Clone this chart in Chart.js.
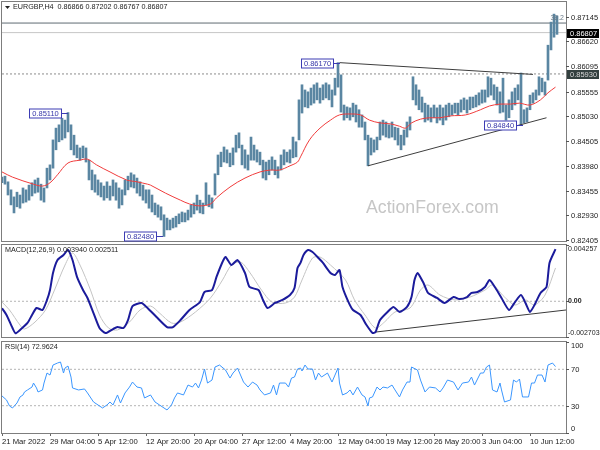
<!DOCTYPE html>
<html>
<head>
<meta charset="utf-8">
<script src="https://cdn.jsdelivr.net/npm/chart.js@4.4.1/dist/chart.umd.min.js"></script>
<style>
  body { margin: 0; background: #fff; }
  #wrap { position: relative; width: 600px; height: 450px; overflow: hidden; }
  canvas { position: absolute; left: 0; }
</style>
</head>
<body>
<div id="wrap">
  <canvas id="priceChart" width="600" height="243" style="top:0"></canvas>
  <canvas id="macdChart" width="600" height="97" style="top:243px"></canvas>
  <canvas id="rsiChart" width="600" height="110" style="top:340px"></canvas>
</div>
<script>
const dateLabels = ["21 Mar 2022", "29 Mar 04:00", "5 Apr 12:00", "12 Apr 20:00", "20 Apr 04:00", "27 Apr 12:00",
  "4 May 20:00", "12 May 04:00", "19 May 12:00", "26 May 20:00", "3 Jun 04:00", "10 Jun 12:00"];
const dateBars = [0, 32, 64, 96, 128, 160, 192, 224, 256, 288, 320, 352];
const barsShown = 376;
const barStep = 2; // one high/low entry per two H4 bars

const highs = [
  0.8374, 0.8376, 0.8364, 0.8347, 0.8332, 0.8342, 0.8336, 0.8351, 0.8347, 0.8357,
  0.8362, 0.8368, 0.8372, 0.8359, 0.8351, 0.8393, 0.8400, 0.8453, 0.8478, 0.8485,
  0.8499, 0.8495, 0.8511, 0.8485, 0.8463, 0.8442, 0.8436, 0.8440, 0.8436, 0.8410,
  0.8389, 0.8379, 0.8368, 0.8362, 0.8355, 0.8364, 0.8355, 0.8368, 0.8362, 0.8351,
  0.8347, 0.8368, 0.8376, 0.8383, 0.8379, 0.8372, 0.8364, 0.8357, 0.8347, 0.8347,
  0.8336, 0.8319, 0.8315, 0.8311, 0.8294, 0.8287, 0.8283, 0.8287, 0.8291, 0.8296,
  0.8300, 0.8298, 0.8304, 0.8315, 0.8319, 0.8336, 0.8325, 0.8319, 0.8362, 0.8336,
  0.8330, 0.8381, 0.8421, 0.8427, 0.8438, 0.8432, 0.8425, 0.8436, 0.8463, 0.8468,
  0.8442, 0.8432, 0.8421, 0.8459, 0.8442, 0.8432, 0.8427, 0.8410, 0.8406, 0.8410,
  0.8417, 0.8410, 0.8396, 0.8421, 0.8432, 0.8427, 0.8432, 0.8459, 0.8449, 0.8538,
  0.8570, 0.8559, 0.8555, 0.8563, 0.8570, 0.8574, 0.8563, 0.8570, 0.8574, 0.8570,
  0.8559, 0.8584, 0.8617, 0.8591, 0.8527, 0.8523, 0.8521, 0.8531, 0.8527, 0.8517,
  0.8506, 0.8491, 0.8463, 0.8457, 0.8453, 0.8459, 0.8491, 0.8495, 0.8491, 0.8485,
  0.8491, 0.8480, 0.8478, 0.8463, 0.8474, 0.8491, 0.8502, 0.8587, 0.8570, 0.8559,
  0.8544, 0.8531, 0.8527, 0.8521, 0.8527, 0.8521, 0.8527, 0.8521, 0.8527, 0.8531,
  0.8527, 0.8531, 0.8531, 0.8538, 0.8542, 0.8538, 0.8544, 0.8544, 0.8548, 0.8553,
  0.8559, 0.8559, 0.8587, 0.8584, 0.8570, 0.8565, 0.8555, 0.8584, 0.8527, 0.8538,
  0.8555, 0.8563, 0.8570, 0.8595, 0.8517, 0.8521, 0.8548, 0.8553, 0.8559, 0.8587,
  0.8584, 0.8576, 0.8654, 0.8703, 0.8720, 0.8716
];
const lows = [
  0.8362, 0.8359, 0.8336, 0.8315, 0.8298, 0.8311, 0.8308, 0.8319, 0.8321, 0.8325,
  0.8334, 0.8340, 0.8342, 0.8325, 0.8321, 0.8351, 0.8368, 0.8393, 0.8432, 0.8449,
  0.8453, 0.8457, 0.8470, 0.8432, 0.8421, 0.8415, 0.8410, 0.8415, 0.8406, 0.8368,
  0.8347, 0.8342, 0.8336, 0.8332, 0.8325, 0.8330, 0.8325, 0.8334, 0.8325, 0.8308,
  0.8315, 0.8336, 0.8347, 0.8353, 0.8351, 0.8340, 0.8334, 0.8325, 0.8319, 0.8308,
  0.8300, 0.8294, 0.8289, 0.8283, 0.8248, 0.8262, 0.8262, 0.8266, 0.8268, 0.8275,
  0.8279, 0.8279, 0.8283, 0.8289, 0.8296, 0.8304, 0.8298, 0.8296, 0.8315, 0.8311,
  0.8308, 0.8336, 0.8379, 0.8396, 0.8406, 0.8404, 0.8396, 0.8400, 0.8427, 0.8436,
  0.8400, 0.8393, 0.8389, 0.8410, 0.8410, 0.8406, 0.8400, 0.8372, 0.8368, 0.8379,
  0.8389, 0.8379, 0.8372, 0.8389, 0.8400, 0.8406, 0.8404, 0.8415, 0.8417, 0.8453,
  0.8510, 0.8523, 0.8521, 0.8527, 0.8531, 0.8538, 0.8531, 0.8538, 0.8542, 0.8538,
  0.8523, 0.8548, 0.8565, 0.8512, 0.8495, 0.8500, 0.8495, 0.8502, 0.8491, 0.8480,
  0.8480, 0.8453, 0.8398, 0.8421, 0.8427, 0.8432, 0.8453, 0.8463, 0.8459, 0.8457,
  0.8459, 0.8453, 0.8442, 0.8432, 0.8442, 0.8459, 0.8474, 0.8538, 0.8527, 0.8517,
  0.8512, 0.8491, 0.8495, 0.8491, 0.8500, 0.8489, 0.8495, 0.8485, 0.8495, 0.8502,
  0.8506, 0.8510, 0.8506, 0.8512, 0.8517, 0.8510, 0.8517, 0.8521, 0.8523, 0.8527,
  0.8531, 0.8533, 0.8544, 0.8548, 0.8538, 0.8527, 0.8510, 0.8512, 0.8495, 0.8500,
  0.8517, 0.8527, 0.8538, 0.8484, 0.8489, 0.8491, 0.8517, 0.8531, 0.8538, 0.8548,
  0.8555, 0.8548, 0.8580, 0.8644, 0.8671, 0.8677
];

const maBars = [0, 7, 21, 27, 32, 37, 44, 52, 57, 63, 72, 83, 90, 97, 99, 109, 119, 125, 132, 139,
  143, 152, 162, 172, 179, 185, 192, 197, 199, 205, 212, 219, 225, 232, 239, 245, 252, 259, 265, 269,
  273, 279, 285, 292, 299, 309, 319, 325, 332, 339, 345, 352, 359, 364, 369];
const maValues = [0.8385, 0.8374, 0.8359, 0.8355, 0.8362, 0.8379, 0.8404, 0.8410, 0.8412, 0.8400,
  0.8385, 0.8368, 0.8364, 0.8359, 0.8357, 0.8340, 0.8325, 0.8317, 0.8313, 0.8317,
  0.8330, 0.8353, 0.8372, 0.8385, 0.8389, 0.8389, 0.8398, 0.8406, 0.8417, 0.8453,
  0.8478, 0.8495, 0.8506, 0.8508, 0.8506, 0.8495, 0.8489, 0.8487, 0.8482, 0.8478,
  0.8489, 0.8497, 0.8500, 0.8500, 0.8504, 0.8506, 0.8517, 0.8525, 0.8529, 0.8529,
  0.8531, 0.8527, 0.8538, 0.8553, 0.8565];

const macdBars = [0, 3, 7, 9, 12, 17, 20, 23, 27, 30, 32, 34, 37, 41, 44, 47, 50, 54, 57, 61,
  65, 69, 74, 77, 81, 84, 87, 93, 97, 103, 110, 114, 119, 125, 132, 135, 140, 143, 147, 149,
  153, 157, 162, 165, 171, 174, 177, 182, 187, 192, 195, 197, 199, 201, 204, 207, 211, 214, 219, 222,
  225, 227, 231, 234, 239, 243, 247, 249, 252, 257, 261, 265, 270, 273, 275, 277, 281, 284, 290, 295,
  301, 305, 310, 313, 317, 322, 325, 329, 333, 338, 342, 346, 349, 352, 355, 359, 363, 365, 369];
const macdValues = [-0.00053, -0.00104, -0.00202, -0.00242, -0.00217, -0.00164, -0.00104, -0.00051, -0.00066, 0.00010,
  0.00085, 0.00214, 0.00312, 0.00350, 0.00388, 0.00312, 0.00184, 0.00085, 0.00025, -0.00089,
  -0.00202, -0.00240, -0.00210, -0.00195, -0.00202, -0.00142, -0.00036, -0.00013, -0.00051, -0.00119,
  -0.00195, -0.00195, -0.00142, -0.00066, -0.00006, 0.00070, 0.00085, 0.00184, 0.00297, 0.00335,
  0.00274, 0.00312, 0.00214, 0.00108, 0.00085, 0.00010, -0.00051, -0.00013, 0.00010, 0.00047,
  0.00100, 0.00252, 0.00290, 0.00350, 0.00388, 0.00373, 0.00327, 0.00290, 0.00214, 0.00199,
  0.00237, 0.00108, -0.00006, -0.00066, -0.00104, -0.00180, -0.00240, -0.00233, -0.00142, -0.00081,
  -0.00043, -0.00081, -0.00043, 0.00032, 0.00161, 0.00214, 0.00138, 0.00063, 0.00025, -0.00013,
  0.00032, 0.00017, 0.00032, 0.00063, 0.00070, 0.00108, 0.00161, 0.00100, 0.00025, -0.00066,
  -0.00006, 0.00047, -0.00013, -0.00081, -0.00028, 0.00063, 0.00108, 0.00290, 0.00394];

const signalBars = [0, 5, 12, 15, 22, 29, 35, 42, 47, 52, 59, 65, 71, 77, 85, 92, 99, 105, 113, 119,
  129, 139, 147, 153, 159, 165, 173, 180, 189, 195, 200, 207, 212, 219, 229, 235, 242, 249, 255, 262,
  272, 279, 284, 292, 302, 312, 322, 327, 335, 342, 349, 355, 362, 369];
const signalValues = [-0.00006, -0.00066, -0.00180, -0.00210, -0.00157, -0.00066, 0.00085, 0.00274, 0.00365, 0.00274,
  0.00085, -0.00104, -0.00202, -0.00217, -0.00157, -0.00066, -0.00036, -0.00089, -0.00164, -0.00157,
  -0.00081, 0.00025, 0.00161, 0.00274, 0.00297, 0.00221, 0.00085, -0.00006, -0.00013, 0.00032,
  0.00161, 0.00327, 0.00335, 0.00274, 0.00161, 0.00010, -0.00104, -0.00202, -0.00157, -0.00081,
  -0.00051, 0.00085, 0.00123, 0.00047, 0.00010, 0.00032, 0.00085, 0.00123, 0.00032, -0.00028,
  0.00010, -0.00028, 0.00047, 0.00252];

const rsiBars = [0, 3, 5, 7, 10, 12, 14, 15, 17, 20, 21, 23, 24, 27, 28, 30, 32, 34, 37, 39,
  41, 42, 44, 46, 47, 51, 55, 57, 61, 64, 67, 70, 72, 74, 77, 79, 82, 85, 87, 90,
  93, 95, 99, 102, 105, 110, 113, 115, 117, 121, 124, 127, 129, 131, 133, 135, 137, 140, 142, 145,
  149, 152, 154, 157, 161, 164, 167, 170, 172, 175, 179, 181, 183, 185, 189, 191, 193, 195, 197, 199,
  200, 202, 204, 207, 209, 211, 213, 217, 220, 222, 224, 225, 227, 230, 232, 234, 237, 240, 242, 244,
  245, 247, 250, 252, 254, 257, 260, 262, 265, 267, 270, 272, 273, 277, 279, 282, 285, 289, 292, 294,
  297, 301, 304, 307, 311, 313, 315, 319, 321, 323, 325, 327, 330, 332, 333, 335, 339, 341, 343, 345,
  347, 351, 353, 355, 357, 360, 362, 364, 367, 369];
const rsiValues = [40.7, 36.3, 29.7, 27.5, 33.0, 39.6, 41.8, 45.1, 47.3, 50.5, 54.9, 49.5, 45.1, 47.3, 54.9, 65.9, 63.7, 74.7, 76.9, 78.0,
  65.9, 71.4, 73.6, 61.5, 49.5, 47.3, 48.4, 44.0, 34.1, 30.8, 27.5, 30.8, 34.1, 30.8, 41.8, 33.0, 44.0, 50.5, 56.0, 50.5,
  49.5, 38.5, 41.8, 34.1, 30.8, 25.3, 30.8, 38.5, 44.0, 41.8, 52.7, 50.5, 54.9, 49.5, 58.2, 70.3, 54.9, 58.2, 72.5, 74.7,
  69.2, 60.4, 65.9, 71.4, 56.0, 50.5, 56.0, 52.7, 47.3, 41.8, 44.0, 52.7, 41.8, 54.9, 54.9, 50.5, 60.4, 61.5, 70.3, 71.4,
  68.1, 74.7, 70.3, 70.3, 58.2, 65.9, 61.5, 65.9, 56.0, 63.7, 71.4, 54.9, 41.8, 44.0, 47.3, 41.8, 50.5, 41.8, 39.6, 29.7,
  38.5, 39.6, 50.5, 47.3, 50.5, 49.5, 52.7, 47.3, 39.6, 47.3, 56.0, 56.0, 72.5, 69.2, 58.2, 45.1, 50.5, 49.5, 45.1, 49.5,
  58.2, 56.0, 47.3, 54.9, 56.0, 61.5, 52.7, 65.9, 65.9, 72.5, 74.7, 47.3, 45.1, 54.9, 47.3, 34.1, 36.3, 58.2, 56.0, 59.3,
  39.6, 39.6, 54.9, 54.9, 63.7, 63.7, 56.0, 74.7, 76.9, 73.0];

const priceTicks = [0.87145, 0.86620, 0.86095, 0.85555, 0.85030, 0.84505, 0.83980, 0.83455, 0.82930, 0.82405];
const macdTicks = [0.004257, 0, -0.002703];
const macdTickLabels = ["0.004257", "0.00", "-0.002703"];
const rsiTicks = [100, 70, 30, 0];

const priceMin = 0.82384;
const priceMax = 0.87457;
const macdMin = -0.002703;
const macdMax = 0.004257;

const swingPrices = [0.85110, 0.82480, 0.86170, 0.84840];
const swingBars = [44, 107, 225, 347];
const upperTrendBars = [225, 354];
const upperTrendPrices = [0.8617, 0.8592];
const lowerTrendBars = [244, 363];
const lowerTrendPrices = [0.8398, 0.8500];
const macdTrendBars = [249, 376];
const macdTrendValues = [-0.00233, -0.00066];

const fibLevel = 0.8701;
const lastPrice = 0.86807;
const breakLevel = 0.8593;

const fontFamily = '"Liberation Sans", Arial, sans-serif';
Chart.defaults.font.family = fontFamily;
Chart.defaults.font.size = 7.5;
Chart.defaults.color = "#222";

function points(xs, ys) {
  return xs.map(function(x, i) { return { x: x, y: ys[i] }; });
}

function lineSet(data, color, width, extra) {
  return Object.assign({
    type: "line", data: data, borderColor: color, borderWidth: width,
    pointRadius: 0, fill: false
  }, extra || {});
}

function timeAxis(show) {
  return {
    type: "linear", min: 0, max: barsShown, offset: false, display: show,
    grid: { drawOnChartArea: false, drawTicks: true, tickLength: 3, color: "#666", offset: false },
    border: { display: false },
    ticks: {
      align: "start", padding: 1, maxRotation: 0, autoSkip: false, color: "#222",
      font: { size: 7.7 },
      callback: function(v, i) { return dateLabels[i]; }
    },
    afterBuildTicks: function(s) { s.ticks = dateBars.map(function(v) { return { value: v }; }); },
    afterFit: function(s) {
      s.height = show ? 17 : 0;
      s.paddingLeft = 0;
      s.paddingRight = 0;
    }
  };
}

function valueAxis(min, max) {
  return {
    position: "right", min: min, max: max,
    grid: { display: false }, border: { display: false }, ticks: { display: false },
    afterFit: function(s) { s.width = 34; s.paddingTop = 0; s.paddingBottom = 0; }
  };
}

function baseOptions(padding, x, y) {
  return {
    responsive: false, devicePixelRatio: 1, animation: false,
    layout: { padding: padding },
    scales: { x: x, y: y },
    plugins: { legend: { display: false }, tooltip: { enabled: false } }
  };
}

function panelPlugin(ticks, texts, clamp, caption, captionX, labelGap, labelSize) {
  return {
    id: "panel",
    afterDraw: function(chart) {
      const ctx = chart.ctx, a = chart.chartArea, y = chart.scales.y;
      ctx.save();
      ctx.strokeStyle = "#7d7d7d";
      ctx.lineWidth = 1;
      ctx.strokeRect(a.left - 0.5, a.top - 0.5, a.right - a.left + 1, a.bottom - a.top + 1);
      ctx.textBaseline = "middle";
      ctx.textAlign = "left";
      ctx.fillStyle = "#222";
      ctx.strokeStyle = "#555";
      ticks.forEach(function(v, i) {
        let py = Math.round(y.getPixelForValue(v)) + 0.5;
        ctx.beginPath();
        ctx.moveTo(a.right, py);
        ctx.lineTo(a.right + 3, py);
        ctx.stroke();
        if (clamp) py = Math.min(Math.max(py, a.top + 4), a.bottom - 4);
        ctx.font = (texts[i] === "0.00" ? "bold " : "") + labelSize + "px " + fontFamily;
        ctx.fillText(texts[i], a.right + labelGap, py);
      });
      ctx.font = "7.2px " + fontFamily;
      ctx.fillText(caption, a.left + captionX, a.top + 5.5);
      ctx.restore();
    }
  };
}

const pricePlugin = {
  id: "priceMarks",
  beforeDatasetsDraw: function(chart) {
    const ctx = chart.ctx;
    ctx.save();
    ctx.font = "17.7px " + fontFamily;
    ctx.fillStyle = "#c6c6c6";
    ctx.fillText("ActionForex.com", 366, 213);
    ctx.restore();
  },
  afterDraw: function(chart) {
    const ctx = chart.ctx, a = chart.chartArea, x = chart.scales.x, y = chart.scales.y;
    ctx.save();
    ctx.font = "7.5px " + fontFamily;
    ctx.textBaseline = "middle";
    ctx.lineWidth = 1;

    swingPrices.forEach(function(p, i) {
      const px = Math.round(x.getPixelForValue(swingBars[i]));
      const py = Math.round(y.getPixelForValue(p)) + 0.5;
      const right = px - 6;
      ctx.strokeStyle = "#3c3cb4";
      ctx.beginPath();
      ctx.moveTo(right, py);
      ctx.lineTo(px, py);
      ctx.stroke();
      ctx.fillStyle = "#fff";
      ctx.fillRect(right - 33, py - 4.5, 33, 9);
      ctx.strokeRect(right - 32.5, py - 4.5, 32, 9);
      ctx.fillStyle = "#3535a8";
      ctx.textAlign = "center";
      ctx.fillText(p.toFixed(5), right - 16.5, py + 0.5);
    });

    function tag(value, bg, fg) {
      const py = Math.round(y.getPixelForValue(value));
      ctx.fillStyle = bg;
      ctx.fillRect(a.right + 1, py - 4, 32, 9);
      ctx.fillStyle = fg;
      ctx.textAlign = "left";
      ctx.fillText(value.toFixed(5), a.right + 4, py + 0.5);
    }
    tag(lastPrice, "#000", "#fff");
    tag(breakLevel, "#33403f", "#d6d6d6");

    ctx.fillStyle = "#6b7b88";
    ctx.textAlign = "right";
    ctx.font = "7px " + fontFamily;
    ctx.fillText("38.2", a.right - 2, y.getPixelForValue(fibLevel) - 5);

    ctx.fillStyle = "#222";
    ctx.beginPath();
    ctx.moveTo(a.left + 3, a.top + 4);
    ctx.lineTo(a.left + 8, a.top + 4);
    ctx.lineTo(a.left + 5.5, a.top + 7);
    ctx.closePath();
    ctx.fill();
    ctx.restore();
  }
};

new Chart(document.getElementById("priceChart"), {
  type: "bar",
  data: {
    datasets: [
      lineSet(points(upperTrendBars, upperTrendPrices), "#3e3e3e", 1, { order: 0 }),
      lineSet(points(lowerTrendBars, lowerTrendPrices), "#3e3e3e", 1, { order: 0 }),
      lineSet(points(maBars, maValues), "#f03c3c", 1, { tension: 0.35, order: 1 }),
      {
        type: "bar",
        data: highs.map(function(h, k) { return { x: k * barStep, y: [lows[k], h] }; }),
        backgroundColor: "#5a86a2", barThickness: 2, grouped: false, order: 2
      },
      lineSet(points([0, barsShown], [fibLevel, fibLevel]), "#5f6b72", 1, { order: 3 }),
      lineSet(points([0, barsShown], [lastPrice, lastPrice]), "#c6c6c6", 1, { order: 3 }),
      lineSet(points([0, barsShown], [breakLevel, breakLevel]), "#8c8c8c", 1, { borderDash: [2, 2], order: 3 })
    ]
  },
  options: baseOptions({ left: 2, top: 2, right: 0, bottom: 2 }, timeAxis(false), valueAxis(priceMin, priceMax)),
  plugins: [
    panelPlugin(priceTicks, priceTicks.map(function(v) { return v.toFixed(5); }), false,
      "EURGBP,H4  0.86866 0.87202 0.86767 0.86807", 11, 5, 7.5),
    pricePlugin
  ]
});

new Chart(document.getElementById("macdChart"), {
  type: "line",
  data: {
    datasets: [
      lineSet(points(macdBars, macdValues), "#1b1b9b", 2, { tension: 0.2 }),
      lineSet(points(signalBars, signalValues), "#c4c4c4", 1, { tension: 0.3 }),
      lineSet(points(macdTrendBars, macdTrendValues), "#3a3a3a", 1),
      lineSet(points([0, barsShown], [0, 0]), "#b4b4b4", 1, { borderDash: [2, 2] })
    ]
  },
  options: baseOptions({ left: 2, top: 2, right: 0, bottom: 3 }, timeAxis(false), valueAxis(macdMin, macdMax)),
  plugins: [panelPlugin(macdTicks, macdTickLabels, true, "MACD(12,26,9) 0.003940 0.002511", 3, 2, 7)]
});

new Chart(document.getElementById("rsiChart"), {
  type: "line",
  data: {
    datasets: [
      lineSet(points(rsiBars, rsiValues), "#3a96ff", 1),
      lineSet(points([0, barsShown], [70, 70]), "#b4b4b4", 1, { borderDash: [2, 2] }),
      lineSet(points([0, barsShown], [30, 30]), "#b4b4b4", 1, { borderDash: [2, 2] })
    ]
  },
  options: baseOptions({ left: 2, top: 2, right: 0, bottom: 0 }, timeAxis(true), valueAxis(0, 100)),
  plugins: [panelPlugin(rsiTicks, rsiTicks.map(String), true, "RSI(14) 72.9624", 3, 5, 7.5)]
});
</script>
</body>
</html>
